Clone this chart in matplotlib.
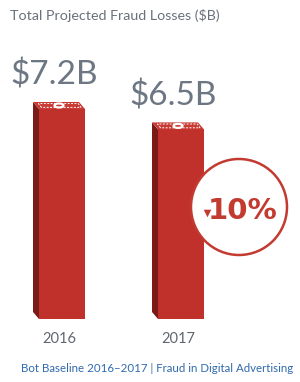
"""Total projected fraud losses 2016 vs 2017, drawn as pseudo-3D bars."""
import matplotlib
matplotlib.use("Agg")
import matplotlib.pyplot as plt
from matplotlib.patches import Polygon, Ellipse

years = ["2016", "2017"]
losses = [7.2, 6.5]          # $B
value_labels = ["$7.2B", "$6.5B"]
title = "Total Projected Fraud Losses ($B)"
footer = "Bot Baseline 2016\u20132017 | Fraud in Digital Advertising"

RED = "#c1312b"
RED_TOP = "#c93a33"
RED_DARK = "#7a1b17"
GREY = "#6d7783"
BLUE = "#2f6aad"

W, H, DPI = 300, 382, 100
PX_X = 119.0          # pixels per x unit
PX_Y = 29.17          # pixels per $B
BASE = 319            # baseline, pixels from top
X0 = 62               # pixel centre of first bar

fig = plt.figure(figsize=(W / DPI, H / DPI), dpi=DPI)
fig.patch.set_facecolor("white")
ax = fig.add_axes([0, (H - BASE) / H, 1, BASE / H])
ax.set_xlim(-X0 / PX_X, (W - X0) / PX_X)
ax.set_ylim(0, BASE / PX_Y)
ax.axis("off")

width = 46 / PX_X
dx, dy = 6 / PX_X, 7 / PX_Y
xs = list(range(len(losses)))

bars = ax.bar(xs, losses, width=width, color=RED, zorder=2)
for b in bars:
    xl, xr, top = b.get_x(), b.get_x() + b.get_width(), b.get_height()
    # dark left side
    ax.add_patch(Polygon([(xl, top), (xl - dx, top + dy), (xl - dx, dy), (xl, 0)],
                         closed=True, color=RED_DARK, lw=0, zorder=2))
    # top face
    ax.add_patch(Polygon([(xl, top), (xl - dx, top + dy), (xr - dx, top + dy), (xr, top)],
                         closed=True, color=RED_TOP, lw=0, zorder=3))
    ix, iy = 2.5 / PX_X, 1.6 / PX_Y
    ax.add_patch(Polygon([(xl + ix, top + iy), (xl - dx + ix * 2.2, top + dy - iy),
                          (xr - dx - ix * 0.3, top + dy - iy), (xr - ix * 1.6, top + iy)],
                         closed=True, fill=False, ec="white", lw=0.7, ls=(0, (2, 1.5)), zorder=4))
    ax.add_patch(Ellipse(((xl + xr) / 2 - dx / 2, top + dy / 2), 9 / PX_X, 4 / PX_Y,
                         fill=False, ec="white", lw=1.6, zorder=4))

for x, v, lab in zip(xs, losses, value_labels):
    ax.annotate(lab, (x, v), xytext=(-8, 24), textcoords="offset pixels",
                ha="center", va="baseline", fontsize=24, color=GREY, family="Lato")
    ax.annotate(years[x], (x, 0), xytext=(-3, -24), textcoords="offset pixels",
                ha="center", va="baseline", fontsize=10.5, color="#5f6670", family="Lato")

# change badge
change = (losses[1] - losses[0]) / losses[0] * 100
cx, cy = (239 - X0) / PX_X, (BASE - 207) / PX_Y
ax.add_patch(Ellipse((cx, cy), 2 * 48 / PX_X, 2 * 48 / PX_Y, fc="white", ec="#c23a30",
                     lw=1.8, zorder=5))
ax.text(cx + 4 / PX_X, cy - 4 / PX_Y, f"{abs(change):.0f}%", ha="center", va="center",
        fontsize=21, fontweight="bold", color="#c23a30", family="Liberation Sans Narrow",
        zorder=6)
ax.scatter([cx - 32 / PX_X], [cy - 6 / PX_Y], marker="v", s=30, color="#c23a30", lw=0, zorder=6)

fig.text(10 / W, 1 - 16 / H, title, ha="left", va="center", fontsize=10.3, color="#6a717b",
         family="Lato")
fig.text(157 / W, 1 - 369 / H, footer, ha="center", va="center", fontsize=8.3, color=BLUE,
         family="Lato")

fig.savefig("out.png", dpi=DPI, facecolor="white")
